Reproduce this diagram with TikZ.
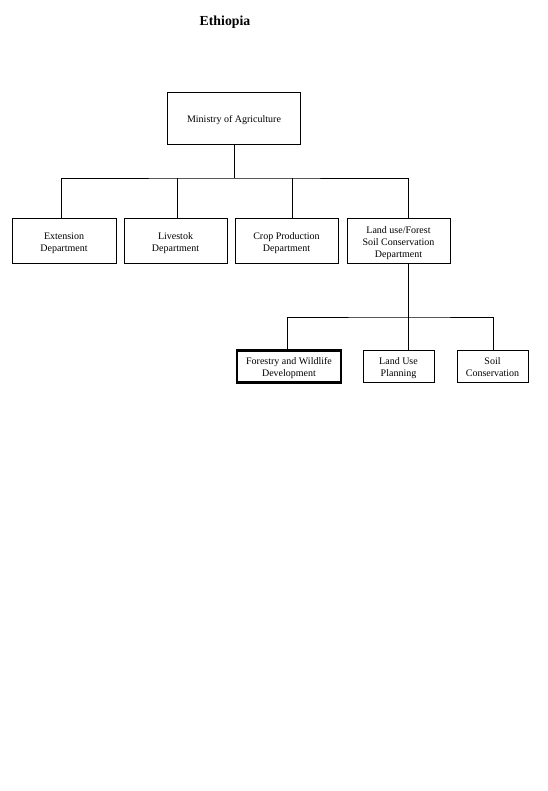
\documentclass[tikz,border=0pt]{standalone}
\usepackage{fontspec}
\setmainfont{Liberation Serif}
\newcommand{\lbl}[1]{\raisebox{-2pt}[\height][\depth]{\begin{tabular}{@{}c@{}}#1\end{tabular}}}
\begin{document}
\begin{tikzpicture}[x=1pt,y=-1pt,
  box/.style={draw,line width=0.8pt,inner sep=0pt,font=\fontsize{10}{12}\selectfont},
  conn/.style={line width=0.8pt}]
\useasboundingbox (0,0) rectangle (547,791);
\fill[white] (0,0) rectangle (547,791);
\node[font=\fontsize{13.8}{15}\bfseries\selectfont] (title) at (225,22.5) {Ethiopia};
\node[box,minimum width=133pt,minimum height=52pt] (min) at (234,118) {\lbl{Ministry of Agriculture}};
\node[box,minimum width=104pt,minimum height=45pt] (ext) at (64,241) {\lbl{Extension\\Department}};
\node[box,minimum width=103pt,minimum height=45pt] (liv) at (175.5,241) {\lbl{Livestok\\Department}};
\node[box,minimum width=103pt,minimum height=45pt] (crop) at (286.5,241) {\lbl{Crop Production\\Department}};
\node[box,minimum width=103pt,minimum height=45pt] (land) at (398.5,241) {\lbl{Land use/Forest\\Soil Conservation\\Department}};
\node[box,line width=2.4pt,minimum width=104pt,minimum height=32pt] (for) at (289,366.5) {\lbl{Forestry and Wildlife\\Development}};
\node[box,minimum width=71pt,minimum height=32pt] (lup) at (398.5,366.5) {\lbl{Land Use\\Planning}};
\node[box,minimum width=71pt,minimum height=32pt] (soil) at (492.5,366.5) {\lbl{Soil\\Conservation}};
\coordinate (j1) at (234,178);
\coordinate (j2) at (408,317);
\draw[conn] (min.south -| j1) -- (j1);
\draw[conn] (61,219) |- (j1) -| (408,219);
\draw[conn] (177,178) -- (177,219);
\draw[conn] (292,178) -- (292,219);
\draw[conn] (land.south -| j2) -- (j2);
\draw[conn] (287,350) |- (j2) -| (493,350);
\draw[conn] (408,317) -- (408,350);
\end{tikzpicture}
\end{document}
